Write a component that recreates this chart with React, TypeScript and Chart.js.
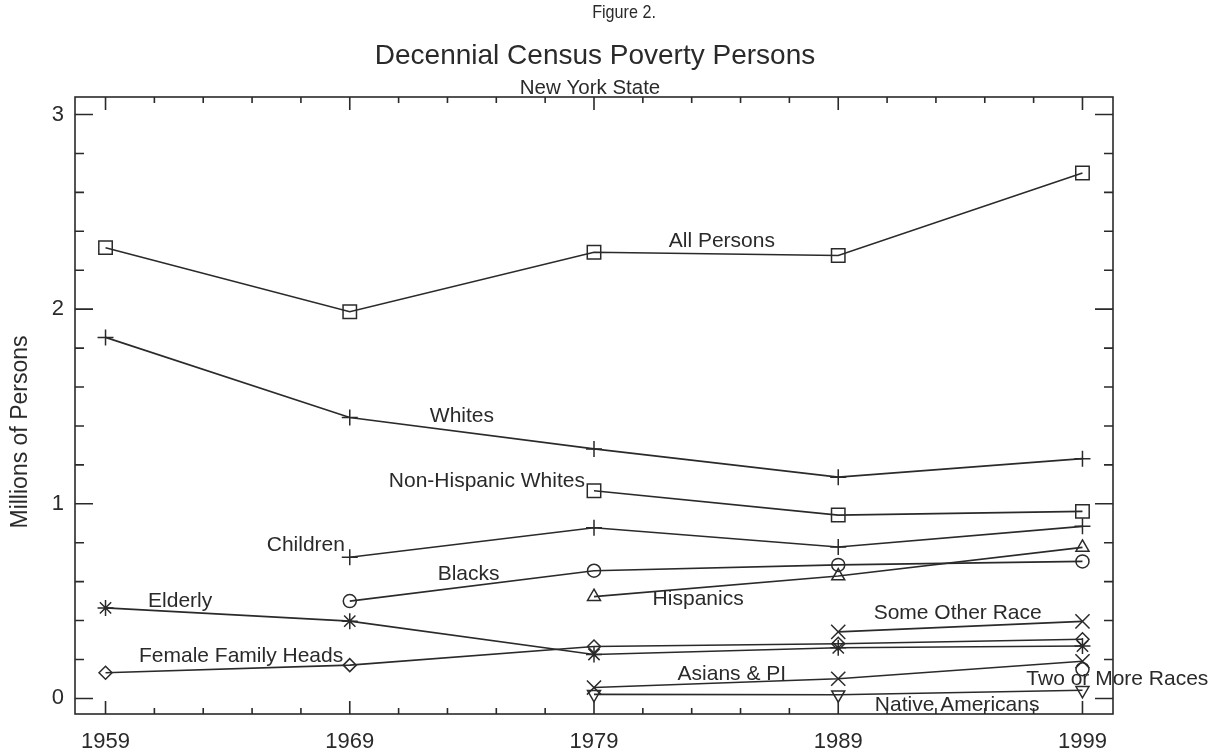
import React, { useEffect, useRef } from "react";
import { Chart, registerables } from "chart.js";

Chart.register(...registerables);

// ---- data (millions of persons in poverty, New York State) ----
const years = [1959, 1969, 1979, 1989, 1999];
const allPersons = [2.316, 1.987, 2.292, 2.276, 2.70];
const whites = [1.855, 1.443, 1.282, 1.137, 1.232];
const nonHispanicWhites = [null, null, 1.067, 0.942, 0.961];
const children = [null, 0.725, 0.877, 0.778, 0.884];
const blacks = [null, 0.50, 0.656, 0.686, 0.704];
const hispanics = [null, null, 0.523, 0.629, 0.776];
const elderly = [0.465, 0.397, 0.226, 0.26, 0.269];
const femaleFamilyHeads = [0.132, 0.171, 0.267, 0.281, 0.304];
const someOtherRace = [null, null, null, 0.342, 0.396];
const asiansPI = [null, null, 0.056, 0.101, 0.191];
const twoOrMoreRaces = [null, null, null, null, 0.15];
const nativeAmericans = [null, null, 0.021, 0.019, 0.042];

// ---- tick values ----
const xMajorTicks = [1959, 1969, 1979, 1989, 1999];
const xMinorTicks = [1961, 1963, 1965, 1967, 1971, 1973, 1975, 1977, 1981, 1983, 1985, 1987, 1991, 1993, 1995, 1997];
const yMajorTicks = [0, 1, 2, 3];
const yMinorTicks = [0.2, 0.4, 0.6, 0.8, 1.2, 1.4, 1.6, 1.8, 2.2, 2.4, 2.6, 2.8];

// ---- text ----
const figureLabel = "Figure 2.";
const chartTitle = "Decennial Census Poverty Persons";
const chartSubtitle = "New York State";
const yAxisTitle = "Millions of Persons";

const ink = "#2a2a2a";
const FONT = "'Liberation Sans', Arial, sans-serif";

const seriesDefs = [
  { label: "All Persons", values: allPersons, style: "rect", radius: 9.5, rotation: 0 },
  { label: "Whites", values: whites, style: "cross", radius: 8, rotation: 0 },
  { label: "Non-Hispanic Whites", values: nonHispanicWhites, style: "rect", radius: 9.5, rotation: 0 },
  { label: "Children", values: children, style: "cross", radius: 8, rotation: 0 },
  { label: "Blacks", values: blacks, style: "circle", radius: 6.5, rotation: 0 },
  { label: "Hispanics", values: hispanics, style: "triangle", radius: 7.5, rotation: 0 },
  { label: "Elderly", values: elderly, style: "star", radius: 8, rotation: 0 },
  { label: "Female Family Heads", values: femaleFamilyHeads, style: "rectRot", radius: 6.5, rotation: 0 },
  { label: "Some Other Race", values: someOtherRace, style: "crossRot", radius: 10, rotation: 0 },
  { label: "Asians & PI", values: asiansPI, style: "crossRot", radius: 10, rotation: 0 },
  { label: "Two or More Races", values: twoOrMoreRaces, style: "circle", radius: 6.5, rotation: 0 },
  { label: "Native Americans", values: nativeAmericans, style: "triangle", radius: 7.5, rotation: 180 },
];

// in-plot series labels, anchored (left edge, middle) in data coordinates
const seriesLabelAnchors = [
  { text: "All Persons", x: 1982.06, y: 2.35 },
  { text: "Whites", x: 1972.28, y: 1.449 },
  { text: "Non-Hispanic Whites", x: 1970.6, y: 1.118 },
  { text: "Children", x: 1965.6, y: 0.786 },
  { text: "Blacks", x: 1972.6, y: 0.638 },
  { text: "Hispanics", x: 1981.4, y: 0.51 },
  { text: "Elderly", x: 1960.74, y: 0.499 },
  { text: "Female Family Heads", x: 1960.37, y: 0.217 },
  { text: "Some Other Race", x: 1990.45, y: 0.437 },
  { text: "Asians & PI", x: 1982.42, y: 0.124 },
  { text: "Two or More Races", x: 1996.7, y: 0.10 },
  { text: "Native Americans", x: 1990.5, y: -0.034 },
];

const frameTicksPlugin = {
  id: "frameTicks",
  afterDatasetsDraw(chart: any) {
    const { ctx, chartArea: a, scales } = chart;
    const x = scales.x;
    const y = scales.y;
    ctx.save();
    ctx.strokeStyle = ink;
    ctx.lineWidth = 1.6;
    ctx.strokeRect(a.left, a.top, a.right - a.left, a.bottom - a.top);
    ctx.beginPath();
    const xt = (v: number, len: number) => {
      const px = x.getPixelForValue(v);
      ctx.moveTo(px, a.bottom);
      ctx.lineTo(px, a.bottom - len);
      ctx.moveTo(px, a.top);
      ctx.lineTo(px, a.top + len);
    };
    const yt = (v: number, len: number) => {
      const py = y.getPixelForValue(v);
      ctx.moveTo(a.left, py);
      ctx.lineTo(a.left + len, py);
      ctx.moveTo(a.right, py);
      ctx.lineTo(a.right - len, py);
    };
    xMajorTicks.forEach((v) => xt(v, 13));
    xMinorTicks.forEach((v) => xt(v, 6));
    yMajorTicks.forEach((v) => yt(v, 18));
    yMinorTicks.forEach((v) => yt(v, 9));
    ctx.stroke();
    ctx.restore();
  },
};

const textPlugin = {
  id: "textLayer",
  afterDraw(chart: any) {
    const { ctx, scales } = chart;
    const x = scales.x;
    const y = scales.y;
    ctx.save();
    ctx.fillStyle = ink;
    ctx.textBaseline = "middle";
    ctx.textAlign = "center";

    // "Figure 2." is set in a slightly condensed face in the original
    ctx.save();
    ctx.translate(624, 13);
    ctx.scale(0.85, 1);
    ctx.font = `19px ${FONT}`;
    ctx.fillText(figureLabel, 0, 0);
    ctx.restore();

    ctx.font = `28px ${FONT}`;
    ctx.fillText(chartTitle, 595, 56);
    ctx.font = `20.5px ${FONT}`;
    ctx.fillText(chartSubtitle, 590, 88);

    ctx.save();
    ctx.translate(21, 432);
    ctx.rotate(-Math.PI / 2);
    ctx.font = `23px ${FONT}`;
    ctx.fillText(yAxisTitle, 0, 0);
    ctx.restore();

    ctx.textAlign = "left";
    ctx.font = `21px ${FONT}`;
    seriesLabelAnchors.forEach((l) => {
      ctx.fillText(l.text, x.getPixelForValue(l.x), y.getPixelForValue(l.y));
    });
    ctx.restore();
  },
};

export default function App() {
  const ref = useRef<HTMLCanvasElement | null>(null);

  useEffect(() => {
    if (!ref.current) return;
    const datasets = seriesDefs.map((s) => ({
      label: s.label,
      data: years
        .map((yr, i) => ({ x: yr, y: s.values[i] }))
        .filter((p) => p.y !== null && p.y !== undefined),
      borderColor: ink,
      borderWidth: 1.6,
      pointStyle: s.style,
      pointRadius: s.radius,
      pointRotation: s.rotation,
      pointBorderColor: ink,
      pointBorderWidth: 1.5,
      pointBackgroundColor: "rgba(0,0,0,0)",
      tension: 0,
      fill: false,
    }));

    const chart = new Chart(ref.current, {
      type: "line",
      data: { datasets },
      plugins: [frameTicksPlugin, textPlugin],
      options: {
        animation: false,
        responsive: false,
        devicePixelRatio: 1,
        layout: { padding: { top: 97, right: 104, left: 0, bottom: 0 } },
        plugins: {
          legend: { display: false },
          tooltip: { enabled: false },
          title: { display: false },
        },
        scales: {
          x: {
            type: "linear",
            min: 1957.75,
            max: 2000.25,
            grid: { display: false, drawTicks: false, tickLength: 0 },
            border: { display: false },
            ticks: {
              color: ink,
              font: { family: FONT, size: 22 },
              padding: 15,
              maxRotation: 0,
              autoSkip: false,
              callback: (v: any) => String(v),
            },
            afterBuildTicks: (s: any) => {
              s.ticks = xMajorTicks.map((v) => ({ value: v }));
            },
            afterFit: (s: any) => {
              s.height = 40;
            },
          },
          y: {
            type: "linear",
            min: -0.08,
            max: 3.09,
            grid: { display: false, drawTicks: false, tickLength: 0 },
            border: { display: false },
            ticks: {
              color: ink,
              font: { family: FONT, size: 22 },
              padding: 11,
              autoSkip: false,
              callback: (v: any) => String(v),
            },
            afterBuildTicks: (s: any) => {
              s.ticks = yMajorTicks.map((v) => ({ value: v }));
            },
            afterFit: (s: any) => {
              s.width = 75;
            },
          },
        },
      } as any,
    });
    return () => chart.destroy();
  }, []);

  return (
    <div style={{ position: "fixed", left: 0, top: 0, width: 1217, height: 754, background: "#ffffff" }}>
      <canvas ref={ref} width={1217} height={754} />
    </div>
  );
}
